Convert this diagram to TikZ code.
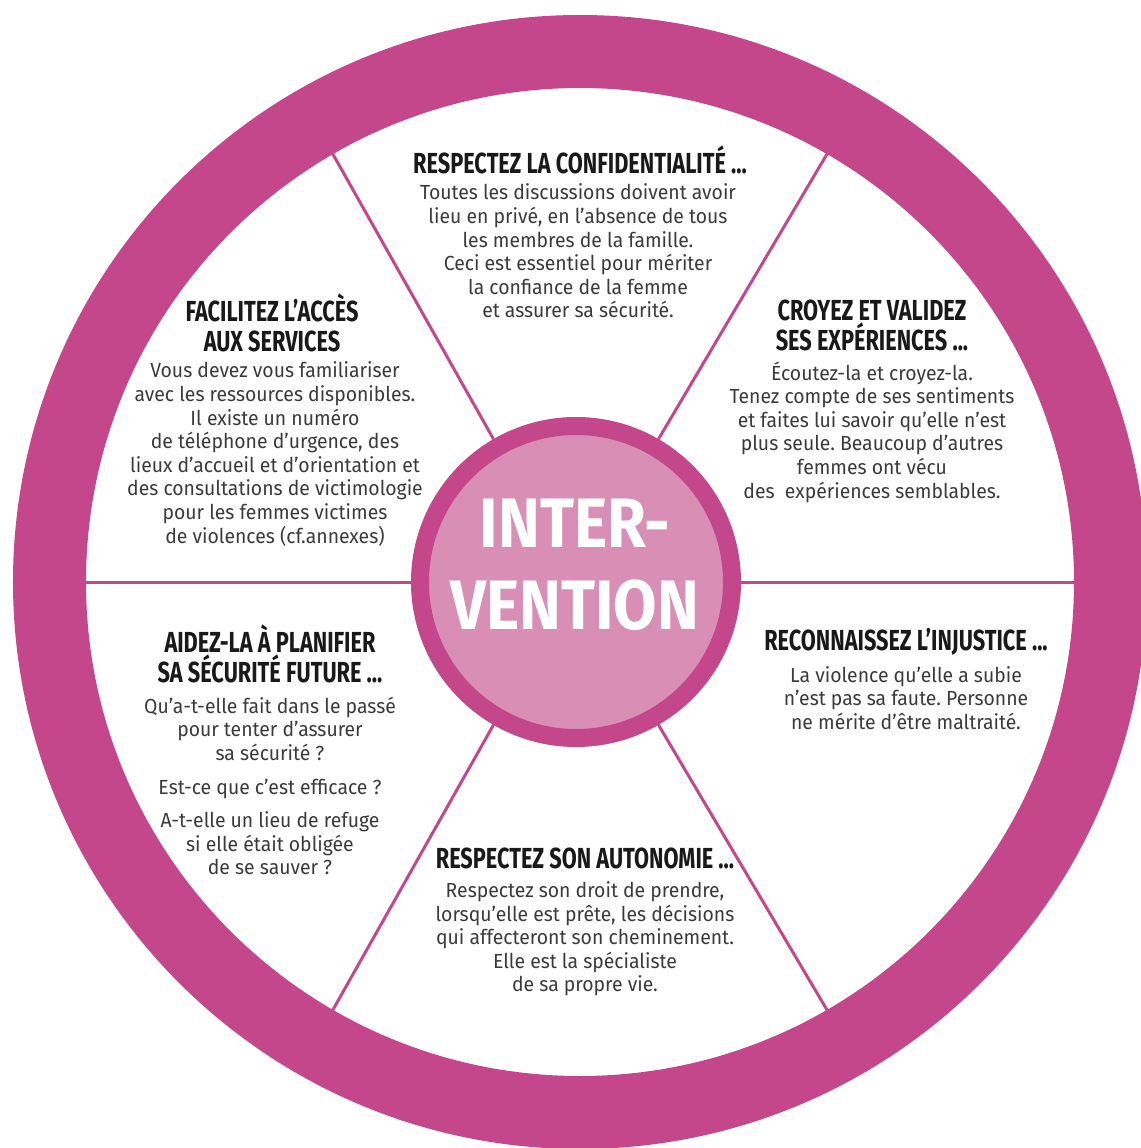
\documentclass[tikz,border=0pt]{standalone}
\usepackage{fontspec}
\setmainfont{Fira Sans}
\newfontfamily\headfont[FakeStretch=0.75]{Fira Sans}
\newfontfamily\bodyfont[FakeStretch=0.95]{Fira Sans}
\newfontfamily\hubfont[FakeStretch=0.9]{Fira Sans}
\definecolor{ringpink}{HTML}{C4478B}
\definecolor{hubpink}{HTML}{D98FB5}
\definecolor{textgray}{HTML}{3A3A3A}
\frenchspacing

\begin{document}
\begin{tikzpicture}[x=0.5pt, y=0.5pt,
    hub/.style={circle, draw=ringpink, fill=hubpink, line width=9pt, minimum size=156pt, inner sep=0},
    spoke/.style={draw=ringpink, line width=1.5pt},
    head/.style={align=center, text=black!90, font=\headfont\bfseries\fontsize{14.5}{15}\selectfont, inner sep=0},
    body/.style={align=center, text=textgray, font=\bodyfont\fontsize{10.2}{11.8}\selectfont, inner sep=0}]
  \useasboundingbox (-580,-566) rectangle (561,582);
  \clip (-580,-566) rectangle (561,582);

  \node[hub] (hub) at (-4,0) {};
  \foreach \a in {0,60,...,300} {
    \coordinate (rim\a) at (\a:500);
    \draw[spoke] (hub.\a) -- (rim\a);
  }
  \fill[ringpink, even odd rule] (0,0) circle (567) (0,0) circle (494);
  \node[text=white, align=center, font=\hubfont\bfseries\fontsize{35}{41}\selectfont] (hublabel) at (-5,17) {INTER-\\VENTION};

  \node[head] (h1) at (0,422) {RESPECTEZ LA CONFIDENTIALITÉ ...};
  \node[body] (b1) at (-2,331) {Toutes les discussions doivent avoir\\lieu en privé, en l’absence de tous\\les membres de la famille.\\Ceci est essentiel pour mériter\\la confiance de la femme\\et assurer sa sécurité.};

  \node[head] (h2) at (292,257) {CROYEZ ET VALIDEZ\\SES EXPÉRIENCES ...};
  \node[body] (b2) at (292,150) {Écoutez-la et croyez-la.\\Tenez compte de ses sentiments\\et faites lui savoir qu’elle n’est\\plus seule. Beaucoup d’autres\\femmes ont vécu\\des~~expériences semblables.};

  \node[head] (h3) at (-308,259) {FACILITEZ L’ACCÈS\\AUX SERVICES};
  \node[body] (b3) at (-305,128) {Vous devez vous familiariser\\avec les ressources disponibles.\\Il existe un numéro\\de téléphone d’urgence, des\\lieux d’accueil et d’orientation et\\des consultations de victimologie\\pour les femmes victimes\\de violences (cf.annexes)};

  \node[head] (h4) at (326,-60) {RECONNAISSEZ L’INJUSTICE ...};
  \node[body] (b4) at (326,-116) {La violence qu’elle a subie\\n’est pas sa faute. Personne\\ne mérite d’être maltraité.};

  \node[head] (h5) at (-310,-72) {AIDEZ-LA À PLANIFIER\\SA SÉCURITÉ FUTURE ...};
  \node[body] (b5) at (-310,-204) {Qu’a-t-elle fait dans le passé\\pour tenter d’assurer\\sa sécurité ?\\[5pt]Est-ce que c’est efficace ?\\[5pt]A-t-elle un lieu de refuge\\si elle était obligée\\de se sauver ?};

  \node[head] (h6) at (5,-276) {RESPECTEZ SON AUTONOMIE ...};
  \node[body] (b6) at (5,-357) {Respectez son droit de prendre,\\lorsqu’elle est prête, les décisions\\qui affecteront son cheminement.\\Elle est la spécialiste\\de sa propre vie.};
\end{tikzpicture}
\end{document}
